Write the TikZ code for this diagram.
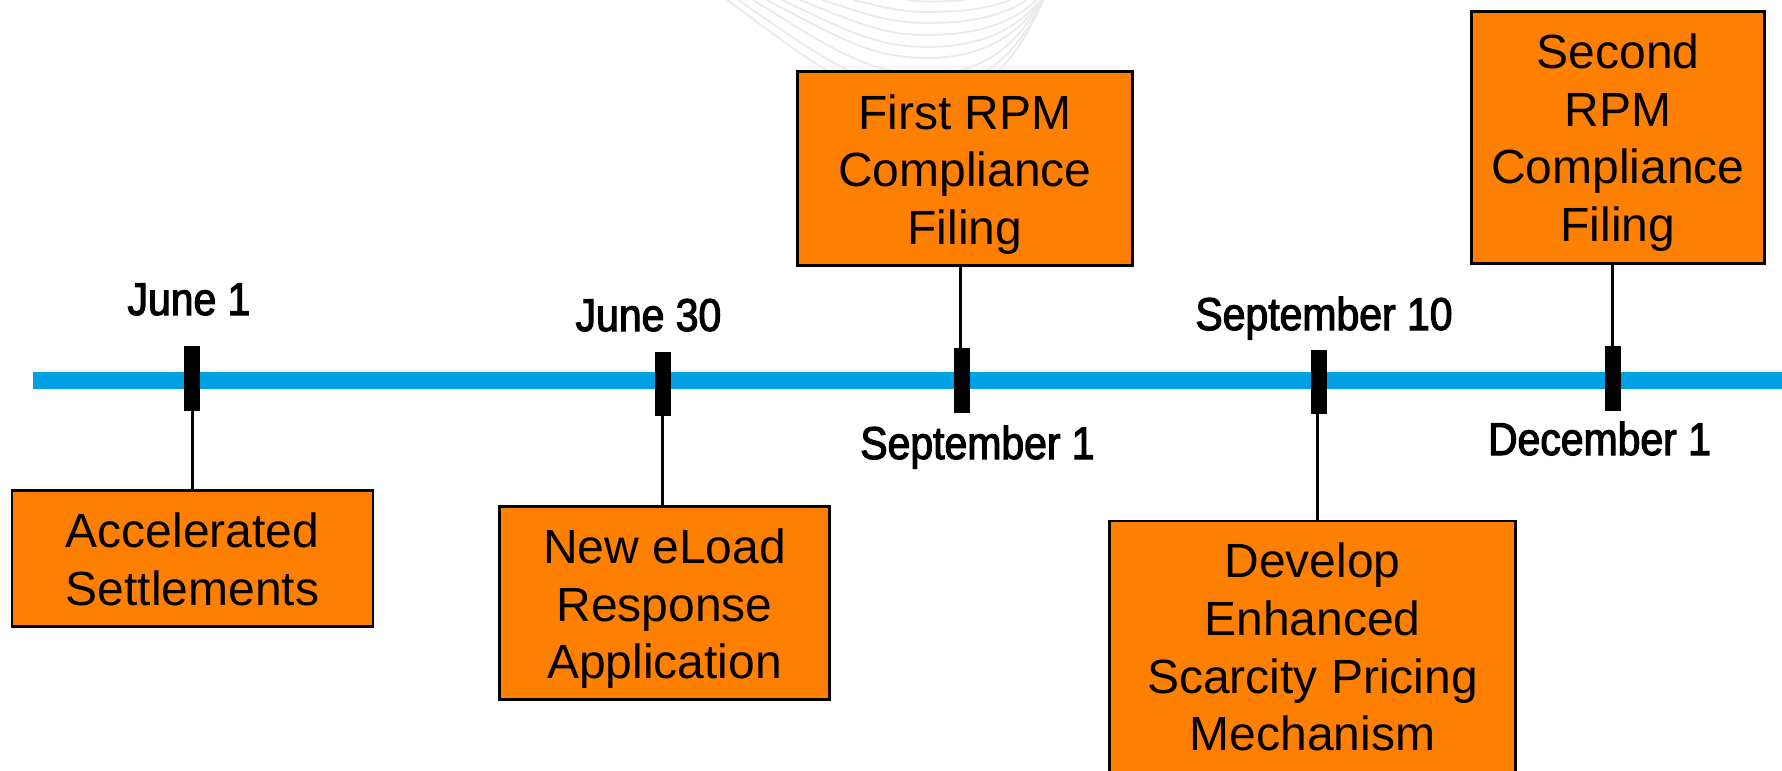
\documentclass[tikz,border=0pt]{standalone}
\usepackage{fontspec}
\setmainfont{Liberation Sans}
\newfontfamily\datefont[FakeStretch=0.89,FakeBold=2.5]{Liberation Sans}
\definecolor{boxorange}{HTML}{FF8000}
\definecolor{barblue}{HTML}{00A0E4}
\definecolor{arcgray}{HTML}{EAEAEA}
\tikzset{
  evbox/.style={draw=black,line width=2.2pt,fill=boxorange,inner sep=0pt,outer sep=0pt},
  evtext/.style={inner sep=0pt,align=center,font=\fontsize{36}{43.2}\selectfont,text=black},
  tick/.style={fill=black,inner sep=0pt,outer sep=0pt,minimum width=12pt,minimum height=48.5pt},
  stem/.style={draw=black,line width=1.7pt},
  datelabel/.style={anchor=base,inner sep=0pt,font=\datefont\fontsize{34.5}{40}\selectfont,text=black},
  arc/.style={draw=arcgray,line width=1.4pt},
  bar/.style={fill=barblue,inner sep=0pt,outer sep=0pt,minimum width=1311.75pt,minimum height=12.75pt,anchor=west}
}
\begin{document}
\begin{tikzpicture}[x=0.75pt,y=-0.75pt]
\useasboundingbox (0,0) rectangle (1782,771);
\clip (0,0) rectangle (1782,771);
% background arcs
\foreach \s/\d/\m/\e in {727/100/925/1043,738/88/925/1043,753/74/927/1042,767/58/927/1042,782/47/927/1041,800/35/927/1037,822/23/927/1027,853/12/927/1010,907/1.5/927/965}{
  \draw[arc] (\s,0) .. controls ({\s+0.45*(\m-\s)},{\d*0.65}) and ({\m-0.35*(\m-\s)},\d) .. (\m,\d)
    .. controls ({\m+0.55*(\e-\m)},\d) and ({\e-0.18*(\e-\m)},{\d*0.5}) .. (\e,0);
}
% timeline
\node[bar] (line) at (33,380.5) {};
% event boxes
\node[evbox,minimum width=0.75*361pt,minimum height=0.75*136pt] (b1) at (192.5,558.5) {};
\node[evbox,minimum width=0.75*330.5pt,minimum height=0.75*193pt] (b2) at (664.5,603) {};
\node[evbox,minimum width=0.75*335.5pt,minimum height=0.75*194pt] (b3) at (965,168.5) {};
\node[evbox,minimum width=0.75*293.5pt,minimum height=0.75*252pt] (b4) at (1618,137.5) {};
\node[evbox,minimum width=0.75*406pt,minimum height=0.75*253pt] (b5) at (1312.5,647.5) {};
\node[evtext] (x1) at ([yshift=-0.85pt]b1.center) {Accelerated\\Settlements};
\node[evtext] (x2) at ([yshift=-4.3pt]b2.center) {New eLoad\\Response\\Application};
\node[evtext] (x3) at ([yshift=-4.3pt]b3.center) {First RPM\\Compliance\\Filing};
\node[evtext] (x4) at ([yshift=-3.8pt]b4.center) {Second\\RPM\\Compliance\\Filing};
\node[evtext] (x5) at ([yshift=0.3pt]b5.center) {Develop\\Enhanced\\Scarcity Pricing\\Mechanism};
% ticks
\node[tick] (t1) at (192,378.5) {};
\node[tick] (t2) at (663,384) {};
\node[tick] (t3) at (961.5,380.5) {};
\node[tick] (t4) at (1319,382) {};
\node[tick] (t5) at (1613,378.5) {};
% stems
\draw[stem] ([xshift=0.4pt]t1.south) -- ([xshift=0.4pt]t1.south |- b1.north);
\draw[stem] ([xshift=-0.4pt]t2.south) -- ([xshift=-0.4pt]t2.south |- b2.north);
\draw[stem] ([xshift=-0.75pt]t3.north) -- ([xshift=-0.75pt]t3.north |- b3.south);
\draw[stem] ([xshift=-1.2pt]t4.south) -- ([xshift=-1.2pt]t4.south |- b5.north);
\draw[stem] ([xshift=-0.3pt]t5.north) -- ([xshift=-0.3pt]t5.north |- b4.south);
% dates
\node[datelabel] (d1) at (189,315) {June 1};
\node[datelabel] (d2) at (648.5,331) {June 30};
\node[datelabel] (d3) at (977.5,459) {September 1};
\node[datelabel] (d4) at (1324,330) {September 10};
\node[datelabel] (d5) at (1599.5,455) {December 1};
\end{tikzpicture}
\end{document}
